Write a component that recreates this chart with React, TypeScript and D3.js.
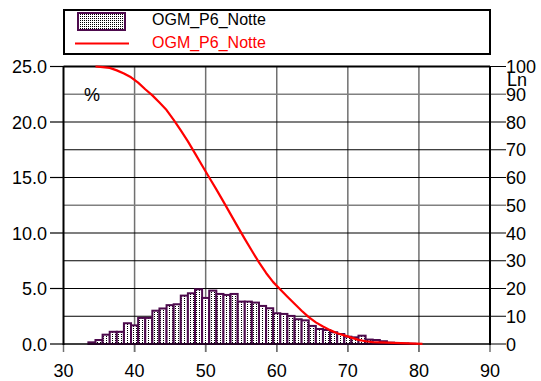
import React from "react";
import * as d3 from "d3";

const binCenters = [34,35,36,37,38,39,40,41,42,43,44,45,46,47,48,49,50,51,52,53,54,55,56,57,58,59,60,61,62,63,64,65,66,67,68,69,70,71,72,73,74,75,76,77,78,79];
const binPercent = [0.15,0.36,0.84,1.1,1.1,1.87,1.68,2.35,2.35,3.0,3.2,3.5,3.58,4.36,4.57,4.93,4.15,4.81,4.51,4.42,4.51,3.82,3.82,3.73,3.43,3.22,2.77,2.71,2.53,2.23,2.13,1.63,1.35,1.26,1.06,0.9,0.66,0.6,0.75,0.4,0.36,0.25,0.12,0.06,0.04,0.02];

const lnX = [34.5,35.5,36.5,37.5,38.5,39.5,40.5,41.5,42.5,43.5,44.5,45.5,46.5,47.5,48.5,49.5,50.5,51.5,52.5,53.5,54.5,55.5,56.5,57.5,58.5,59.5,60.5,61.5,62.5,63.5,64.5,65.5,66.5,67.5,68.5,69.5,70.5,71.5,72.5,73.5,74.5,75.5,76.5,77.5,78.5,79.5,80.5];
const lnY = [100,99.8,99.5,98.6,97.5,96.1,94.2,91.8,89.6,87.0,84.3,80.8,77.0,73.0,68.7,64.3,60.0,55.7,51.3,46.8,42.3,37.9,33.6,29.4,25.6,22.3,19.6,17.0,14.5,12.0,9.7,7.8,6.3,5.0,3.9,3.1,2.3,1.5,1.0,0.7,0.6,0.5,0.4,0.3,0.2,0.15,0.05];

const xTicks = [30,40,50,60,70,80,90];
const leftTicks = [0,5,10,15,20,25];
const leftTickLabels = ["0.0","5.0","10.0","15.0","20.0","25.0"];
const rightTicks = [0,10,20,30,40,50,60,70,80,90,100];
const seriesName = "OGM_P6_Notte";

const FONT = "'Liberation Sans', Arial, sans-serif";
const PURPLE = "#4d0a4d";

export default function App() {
  const x = d3.scaleLinear().domain([30, 90]).range([63.5, 490]);
  const yL = d3.scaleLinear().domain([0, 25]).range([344, 66.5]);
  const yR = d3.scaleLinear().domain([0, 100]).range([344, 66.5]);
  const line = d3
    .line<number>()
    .x((_, i) => x(lnX[i]))
    .y((d) => yR(d));

  return (
    <svg width={541} height={381} style={{ position: "absolute", left: 0, top: 0, background: "#fff" }}>
      <defs>
        <pattern id="stip" patternUnits="userSpaceOnUse" width={2} height={2}>
          <rect width={2} height={2} fill="#fff" />
          <rect width={1} height={1} fill="#000" />
        </pattern>
        <pattern id="stipBar" patternUnits="userSpaceOnUse" width={3} height={2}>
          <rect width={3} height={2} fill="#fff" />
          <rect x={1} width={1} height={1} fill="#000" />
        </pattern>
      </defs>
      <rect width={541} height={381} fill="#fff" />

      {/* legend */}
      <rect x={64} y={10} width={426} height={44} fill="#fff" stroke="#000" strokeWidth={2} />
      <rect x={78} y={13} width={47} height={17} fill="url(#stip)" stroke={PURPLE} strokeWidth={2} />
      <line x1={75} x2={129} y1={43.5} y2={43.5} stroke="#ff0000" strokeWidth={2} />
      <text x={152} y={25} fontFamily={FONT} fontSize={16} fill="#000">{seriesName}</text>
      <text x={152} y={48} fontFamily={FONT} fontSize={16} fill="#ff0000">{seriesName}</text>

      {/* vertical grid */}
      {xTicks.map((t) => (
        <line key={"vx" + t} x1={x(t)} x2={x(t)} y1={66.5} y2={352} stroke={t === 30 || t === 90 ? "none" : "#707070"} strokeWidth={1.5} />
      ))}
      {xTicks.map((t) => (
        <line key={"vt" + t} x1={x(t)} x2={x(t)} y1={344} y2={352} stroke="#707070" strokeWidth={1.5} />
      ))}

      {/* horizontal grid (right axis) */}
      {rightTicks.map((t) => (
        <line key={"hr" + t} x1={63.5} x2={506} y1={yR(t)} y2={yR(t)} stroke={t === 90 || t === 50 ? "#808080" : "#000"} strokeWidth={t === 90 || t === 50 ? 1.5 : 1.2} />
      ))}
      {leftTicks.map((t) => (
        <line key={"hl" + t} x1={50} x2={63.5} y1={yL(t)} y2={yL(t)} stroke="#000" strokeWidth={1.2} />
      ))}

      {/* bars */}
      {binCenters.map((c, i) => (
        <rect
          key={"b" + c}
          x={x(c - 0.5)}
          y={yL(binPercent[i])}
          width={x(c + 0.5) - x(c - 0.5)}
          height={yL(0) - yL(binPercent[i])}
          fill="url(#stipBar)"
          stroke={PURPLE}
          strokeWidth={2}
        />
      ))}

      {/* axes frame */}
      <line x1={63.5} x2={63.5} y1={66} y2={345} stroke="#000" strokeWidth={2} />
      <line x1={490} x2={490} y1={66} y2={345} stroke="#000" strokeWidth={2} />
      <line x1={63.5} x2={490} y1={66.5} y2={66.5} stroke="#000" strokeWidth={2} />
      <line x1={63.5} x2={490} y1={344} y2={344} stroke="#000" strokeWidth={1.2} />

      {/* Ln curve */}
      <path d={line(lnY) || ""} fill="none" stroke="#ff0000" strokeWidth={2.2} strokeLinejoin="round" />

      {/* tick labels */}
      {leftTicks.map((t, i) => (
        <text key={"ll" + t} x={47} y={yL(t) + 6.5} textAnchor="end" fontFamily={FONT} fontSize={18} fill="#000">{leftTickLabels[i]}</text>
      ))}
      {rightTicks.map((t) => (
        <text key={"rl" + t} x={506} y={yR(t) + 6.5} textAnchor="start" fontFamily={FONT} fontSize={18} fill="#000">{t}</text>
      ))}
      {xTicks.map((t) => (
        <text key={"xl" + t} x={x(t)} y={377} textAnchor="middle" fontFamily={FONT} fontSize={18} fill="#000">{t}</text>
      ))}
      <text x={92} y={101} textAnchor="middle" fontFamily={FONT} fontSize={18} fill="#000">%</text>
      <text x={507} y={86} textAnchor="start" fontFamily={FONT} fontSize={18} fill="#000">Ln</text>
    </svg>
  );
}
